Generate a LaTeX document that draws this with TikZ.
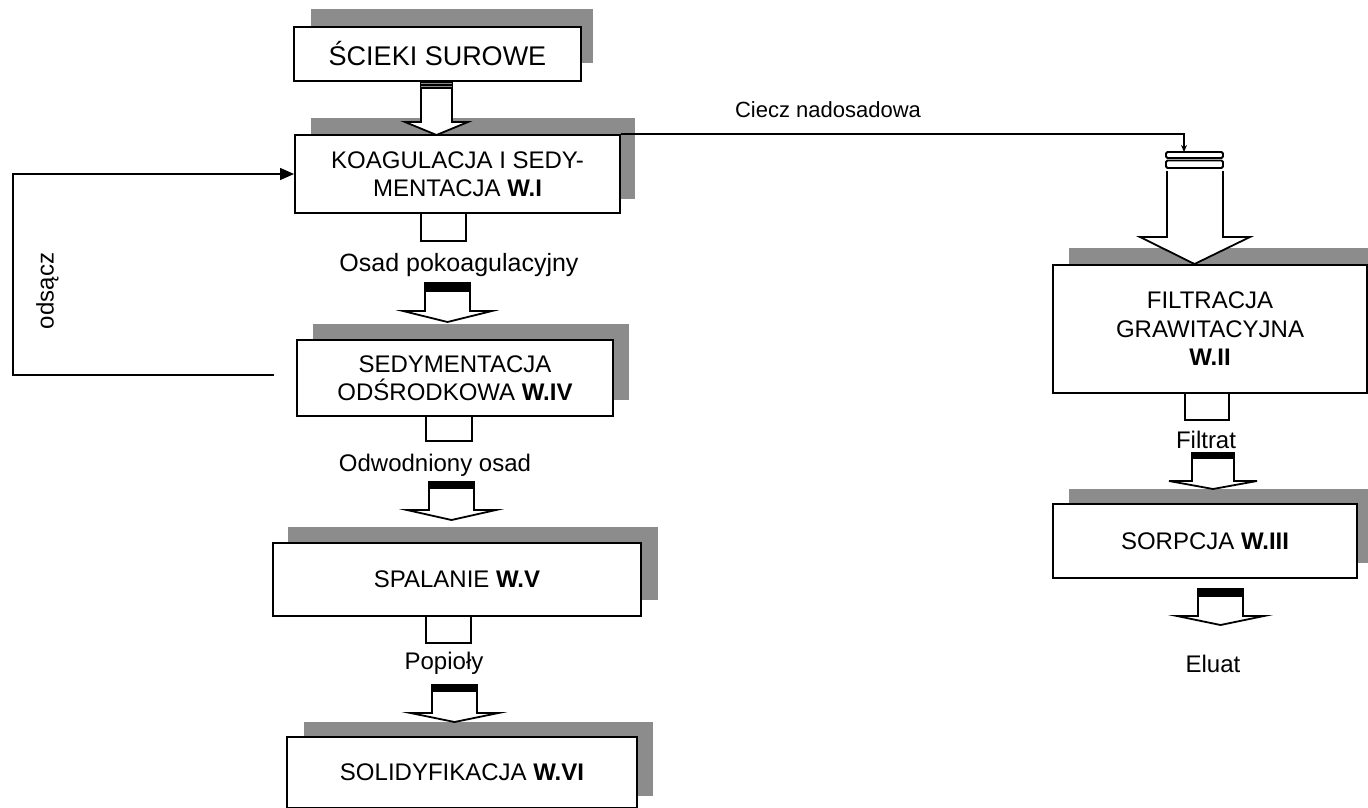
\documentclass[tikz,border=0pt]{standalone}
\usepackage{fontspec}
\setmainfont{Liberation Sans}
\usetikzlibrary{arrows.meta,backgrounds}
\tikzset{
  box/.style={draw, line width=2pt, fill=white, inner sep=0pt, align=center,
    font=\fontsize{24}{28.5}\selectfont},
  shadowfill/.style={fill=black!45},
  lbl/.style={inner sep=0pt, font=\fontsize{24}{28}\selectfont},
  arrline/.style={line width=1.8pt, line join=miter},
  tailbox/.style={draw, line width=2pt, fill=white},
  conn/.style={line width=1.6pt}
}
\newcommand\blockarr[7]{%
  \filldraw[arrline, fill=black] (#1-#6,#2) rectangle (#1+#6,#3);
  \filldraw[arrline, fill=white] (#1-#6,#3) -- (#1-#6,#4) -- (#1-#7,#4) -- (#1,#5) -- (#1+#7,#4) -- (#1+#6,#4) -- (#1+#6,#3);
}
\begin{document}
\begin{tikzpicture}[x=1pt,y=-1pt]
\useasboundingbox (0,0) rectangle (1368,808);

% boxes
\node[box, minimum width=287, minimum height=54, font=\fontsize{27}{32}\selectfont] (b1) at (437.5,54) {ŚCIEKI SUROWE};
\node[box, minimum width=325, minimum height=78] (b2) at (457.5,174) {KOAGULACJA I SEDY-\\MENTACJA \textbf{W.I}};
\node[box, minimum width=316, minimum height=76] (b3) at (455,378) {SEDYMENTACJA\\ODŚRODKOWA \textbf{W.IV}};
\node[box, minimum width=368, minimum height=73] (b4) at (457,579.5) {SPALANIE \textbf{W.V}};
\node[box, minimum width=350, minimum height=71] (b5) at (462,772.5) {SOLIDYFIKACJA \textbf{W.VI}};
\node[box, minimum width=314, minimum height=128] (bf) at (1210,329) {FILTRACJA\\GRAWITACYJNA\\\textbf{W.II}};
\node[box, minimum width=304, minimum height=74] (bs) at (1205,541) {SORPCJA \textbf{W.III}};

% shadows
\begin{scope}[on background layer]
  \fill[shadowfill] (311,9) rectangle (593,63);
  \fill[shadowfill] (311,118) rectangle (635,199);
  \fill[shadowfill] (313,324) rectangle (629,400);
  \fill[shadowfill] (288,527) rectangle (658,600);
  \fill[shadowfill] (304,722) rectangle (653,796);
  \fill[shadowfill] (1069,248) rectangle (1368,377);
  \fill[shadowfill] (1069,489) rectangle (1368,563);
\end{scope}

% tails under boxes
\draw[tailbox] (421,213) rectangle (466,241);
\draw[tailbox] (426,416) rectangle (472,441);
\draw[tailbox] (426,616) rectangle (471,643);
\draw[tailbox] (1185,393) rectangle (1229,420);

% block arrows
\blockarr{436.5}{81}{89}{122}{135}{15.5}{31.5}
\draw[black!45, line width=0.8pt] (421,83.8) -- (452,83.8) (421,86.4) -- (452,86.4);
\blockarr{447.5}{283}{292}{311}{322}{22.5}{44.5}
\blockarr{451.5}{482}{489}{510}{520}{22.5}{44.5}
\blockarr{454.5}{685}{692}{713}{722}{22.5}{44}
\blockarr{1213}{453}{459}{481}{489}{21}{44}
\blockarr{1220.5}{589}{597}{616}{625}{22.5}{43.5}
% big right arrow
\draw[arrline, rounded corners=1.5pt, fill=white] (1166,152) rectangle (1223,158);
\draw[arrline, rounded corners=1.5pt, fill=white] (1166,160.5) rectangle (1223,168);
\filldraw[arrline, fill=white] (1167,171) -- (1167,237) -- (1140,237) -- (1194.5,264) -- (1250,237) -- (1223,237) -- (1223,171);

% connectors
\coordinate (lstart) at (274,375);
\draw[conn, -{Triangle[length=14pt,width=12pt]}] (lstart) -- (13,375) |- (b2.west);
\coordinate (ctop) at (1184,152);
\draw[conn, -{Stealth[length=7pt,width=6pt]}] (b2.north east) -| (ctop);

% labels
\node[lbl, font=\fontsize{22}{26}\selectfont] (lc) at (828,110) {Ciecz nadosadowa};
\node[lbl, font=\fontsize{25}{29}\selectfont] (l1) at (459,265) {Osad pokoagulacyjny};
\node[lbl] (l2) at (435,465) {Odwodniony osad};
\node[lbl] (l3) at (444,663) {Popioły};
\node[lbl] (l4) at (1206,440) {Filtrat};
\node[lbl] (l5) at (1213,664) {Eluat};
\node[lbl, rotate=90] (l6) at (47.5,291) {odsącz};
\end{tikzpicture}
\end{document}
